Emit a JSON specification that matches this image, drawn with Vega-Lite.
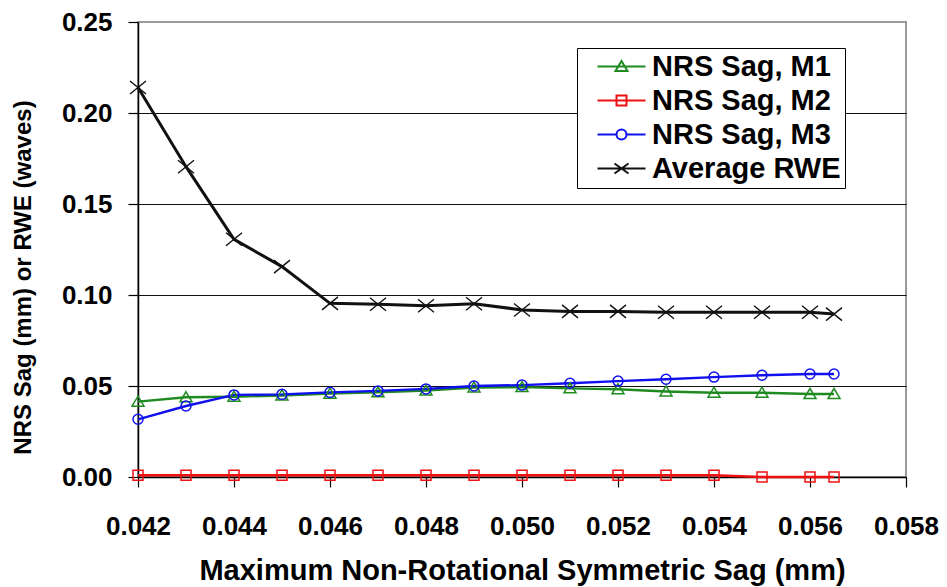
{
  "$schema": "https://vega.github.io/schema/vega-lite/v6.json",
  "width": 768,
  "height": 455,
  "autosize": {"type": "none"},
  "padding": {"left": 138, "top": 22, "right": 41, "bottom": 110},
  "background": "white",
  "config": {
    "view": {"stroke": "#9a9a9a", "strokeWidth": 2},
    "font": "Liberation Sans",
    "legend": {
      "orient": "none",
      "legendX": 439,
      "legendY": 26,
      "fillColor": "white",
      "strokeColor": "black",
      "padding": 4,
      "labelFont": "Liberation Sans",
      "labelFontSize": 29,
      "labelFontWeight": "bold",
      "labelColor": "black",
      "labelLimit": 0,
      "symbolSize": 100,
      "symbolStrokeWidth": 2,
      "symbolFillColor": "transparent",
      "symbolOffset": 26,
      "labelOffset": 16,
      "rowPadding": 4
    }
  },
  "data": {
    "values": [
      {"x": 0.042, "y": 0.0414, "s": "NRS Sag, M1"},
      {"x": 0.043, "y": 0.0438, "s": "NRS Sag, M1"},
      {"x": 0.044, "y": 0.0441, "s": "NRS Sag, M1"},
      {"x": 0.045, "y": 0.0448, "s": "NRS Sag, M1"},
      {"x": 0.046, "y": 0.0458, "s": "NRS Sag, M1"},
      {"x": 0.047, "y": 0.0465, "s": "NRS Sag, M1"},
      {"x": 0.048, "y": 0.0475, "s": "NRS Sag, M1"},
      {"x": 0.049, "y": 0.0492, "s": "NRS Sag, M1"},
      {"x": 0.050, "y": 0.0494, "s": "NRS Sag, M1"},
      {"x": 0.051, "y": 0.0487, "s": "NRS Sag, M1"},
      {"x": 0.052, "y": 0.0482, "s": "NRS Sag, M1"},
      {"x": 0.053, "y": 0.0470, "s": "NRS Sag, M1"},
      {"x": 0.054, "y": 0.0463, "s": "NRS Sag, M1"},
      {"x": 0.055, "y": 0.0463, "s": "NRS Sag, M1"},
      {"x": 0.056, "y": 0.0456, "s": "NRS Sag, M1"},
      {"x": 0.0565, "y": 0.0456, "s": "NRS Sag, M1"},
      {"x": 0.042, "y": 0.001, "s": "NRS Sag, M2"},
      {"x": 0.043, "y": 0.001, "s": "NRS Sag, M2"},
      {"x": 0.044, "y": 0.001, "s": "NRS Sag, M2"},
      {"x": 0.045, "y": 0.001, "s": "NRS Sag, M2"},
      {"x": 0.046, "y": 0.001, "s": "NRS Sag, M2"},
      {"x": 0.047, "y": 0.001, "s": "NRS Sag, M2"},
      {"x": 0.048, "y": 0.001, "s": "NRS Sag, M2"},
      {"x": 0.049, "y": 0.001, "s": "NRS Sag, M2"},
      {"x": 0.050, "y": 0.001, "s": "NRS Sag, M2"},
      {"x": 0.051, "y": 0.001, "s": "NRS Sag, M2"},
      {"x": 0.052, "y": 0.001, "s": "NRS Sag, M2"},
      {"x": 0.053, "y": 0.001, "s": "NRS Sag, M2"},
      {"x": 0.054, "y": 0.001, "s": "NRS Sag, M2"},
      {"x": 0.055, "y": 0.0, "s": "NRS Sag, M2"},
      {"x": 0.056, "y": 0.0, "s": "NRS Sag, M2"},
      {"x": 0.0565, "y": 0.0, "s": "NRS Sag, M2"},
      {"x": 0.042, "y": 0.0317, "s": "NRS Sag, M3"},
      {"x": 0.043, "y": 0.0390, "s": "NRS Sag, M3"},
      {"x": 0.044, "y": 0.0451, "s": "NRS Sag, M3"},
      {"x": 0.045, "y": 0.0454, "s": "NRS Sag, M3"},
      {"x": 0.046, "y": 0.0465, "s": "NRS Sag, M3"},
      {"x": 0.047, "y": 0.0473, "s": "NRS Sag, M3"},
      {"x": 0.048, "y": 0.0484, "s": "NRS Sag, M3"},
      {"x": 0.049, "y": 0.0500, "s": "NRS Sag, M3"},
      {"x": 0.050, "y": 0.0505, "s": "NRS Sag, M3"},
      {"x": 0.051, "y": 0.0515, "s": "NRS Sag, M3"},
      {"x": 0.052, "y": 0.0527, "s": "NRS Sag, M3"},
      {"x": 0.053, "y": 0.0537, "s": "NRS Sag, M3"},
      {"x": 0.054, "y": 0.0549, "s": "NRS Sag, M3"},
      {"x": 0.055, "y": 0.0559, "s": "NRS Sag, M3"},
      {"x": 0.056, "y": 0.0566, "s": "NRS Sag, M3"},
      {"x": 0.0565, "y": 0.0566, "s": "NRS Sag, M3"},
      {"x": 0.042, "y": 0.2140, "s": "Average RWE"},
      {"x": 0.043, "y": 0.1705, "s": "Average RWE"},
      {"x": 0.044, "y": 0.1306, "s": "Average RWE"},
      {"x": 0.045, "y": 0.1156, "s": "Average RWE"},
      {"x": 0.046, "y": 0.0954, "s": "Average RWE"},
      {"x": 0.047, "y": 0.0949, "s": "Average RWE"},
      {"x": 0.048, "y": 0.0941, "s": "Average RWE"},
      {"x": 0.049, "y": 0.0952, "s": "Average RWE"},
      {"x": 0.050, "y": 0.0918, "s": "Average RWE"},
      {"x": 0.051, "y": 0.0910, "s": "Average RWE"},
      {"x": 0.052, "y": 0.0910, "s": "Average RWE"},
      {"x": 0.053, "y": 0.0905, "s": "Average RWE"},
      {"x": 0.054, "y": 0.0905, "s": "Average RWE"},
      {"x": 0.055, "y": 0.0905, "s": "Average RWE"},
      {"x": 0.056, "y": 0.0905, "s": "Average RWE"},
      {"x": 0.0565, "y": 0.0895, "s": "Average RWE"}
    ]
  },
  "encoding": {
    "x": {
      "field": "x",
      "type": "quantitative",
      "scale": {"domain": [0.042, 0.058], "nice": false, "zero": false},
      "axis": {
        "values": [0.042, 0.044, 0.046, 0.048, 0.05, 0.052, 0.054, 0.056, 0.058],
        "format": ".3f",
        "grid": false,
        "domainColor": "black",
        "domainWidth": 1.5,
        "tickColor": "black",
        "tickSize": 10,
        "tickWidth": 1.2,
        "labelFont": "Liberation Sans",
        "labelFontSize": 26,
        "labelFontWeight": "bold",
        "labelColor": "black",
        "labelPadding": 26,
        "labelFlush": false,
        "labelOverlap": false,
        "title": "Maximum Non-Rotational Symmetric Sag (mm)",
        "titleFont": "Liberation Sans",
        "titleFontSize": 29,
        "titleFontWeight": "bold",
        "titleColor": "black",
        "titleY": 93,
        "titleBaseline": "middle"
      }
    },
    "y": {
      "field": "y",
      "type": "quantitative",
      "scale": {"domain": [0, 0.25], "nice": false},
      "axis": {
        "values": [0, 0.05, 0.1, 0.15, 0.2, 0.25],
        "format": ".2f",
        "grid": true,
        "gridColor": {"condition": {"test": "datum.value > 0.24", "value": "#9a9a9a"}, "value": "#111111"},
        "gridWidth": 1.2,
        "domainColor": "black",
        "domainWidth": 1.5,
        "tickColor": "black",
        "tickSize": 10,
        "tickWidth": 1.2,
        "labelFont": "Liberation Sans",
        "labelFontSize": 26,
        "labelFontWeight": "bold",
        "labelColor": "black",
        "labelPadding": 16,
        "labelFlush": false,
        "labelOverlap": false,
        "title": "NRS Sag (mm) or RWE (waves)",
        "titleFont": "Liberation Sans",
        "titleFontSize": 24,
        "titleFontWeight": "bold",
        "titleColor": "black",
        "titleAngle": 270,
        "titleX": -115,
        "titleY": 255,
        "titleAlign": "center",
        "titleBaseline": "middle"
      }
    },
    "color": {
      "field": "s",
      "type": "nominal",
      "scale": {
        "domain": ["NRS Sag, M1", "NRS Sag, M2", "NRS Sag, M3", "Average RWE"],
        "range": ["#1f8a1f", "#ee1111", "#1010ee", "#111111"]
      },
      "legend": {"title": null, "labelExpr": "datum.label + '\u00a0\u00a0'"}
    }
  },
  "layer": [
    {
      "mark": {"type": "line"},
      "encoding": {
        "strokeWidth": {"condition": {"test": "datum.s === 'Average RWE'", "value": 3}, "value": 2.4}
      }
    },
    {
      "transform": [{"filter": "datum.s === 'NRS Sag, M1'"}],
      "mark": {"type": "point", "filled": false, "size": 100, "strokeWidth": 1.5, "opacity": 1, "shape": "M0,-1.1L1.2,0.9L-1.2,0.9Z"}
    },
    {
      "transform": [{"filter": "datum.s === 'NRS Sag, M2'"}],
      "mark": {"type": "point", "filled": false, "size": 100, "strokeWidth": 1.5, "opacity": 1, "shape": "M-1,-1H1V1H-1Z"}
    },
    {
      "transform": [{"filter": "datum.s === 'NRS Sag, M3'"}],
      "mark": {"type": "point", "filled": false, "size": 100, "strokeWidth": 1.5, "opacity": 1, "shape": "M1,0A1,1,0,1,1,-1,0A1,1,0,1,1,1,0"}
    },
    {
      "transform": [{"filter": "datum.s === 'Average RWE'"}],
      "mark": {"type": "point", "filled": false, "size": 100, "strokeWidth": 1.4, "opacity": 1, "shape": "M-1.6,-1.3L1.6,1.3M1.6,-1.3L-1.6,1.3"}
    },
    {
      "transform": [{"filter": "datum.y > 1"}],
      "mark": {"type": "point", "filled": false, "size": 100, "strokeWidth": 2, "opacity": 1},
      "encoding": {
        "shape": {
          "field": "s",
          "type": "nominal",
          "scale": {
            "domain": ["NRS Sag, M1", "NRS Sag, M2", "NRS Sag, M3", "Average RWE"],
            "range": [
              "M-4.8,0H4.8M0,-1.1L1.2,0.9L-1.2,0.9Z",
              "M-4.8,0H4.8M-1,-1H1V1H-1Z",
              "M-4.8,0H-1M1,0H4.8M1,0A1,1,0,1,1,-1,0A1,1,0,1,1,1,0",
              "M-4.8,0H4.8M-1.4,-1L1.4,1M1.4,-1L-1.4,1"
            ]
          },
          "legend": {"title": null, "labelExpr": "datum.label + '\u00a0\u00a0'"}
        }
      }
    }
  ]
}
